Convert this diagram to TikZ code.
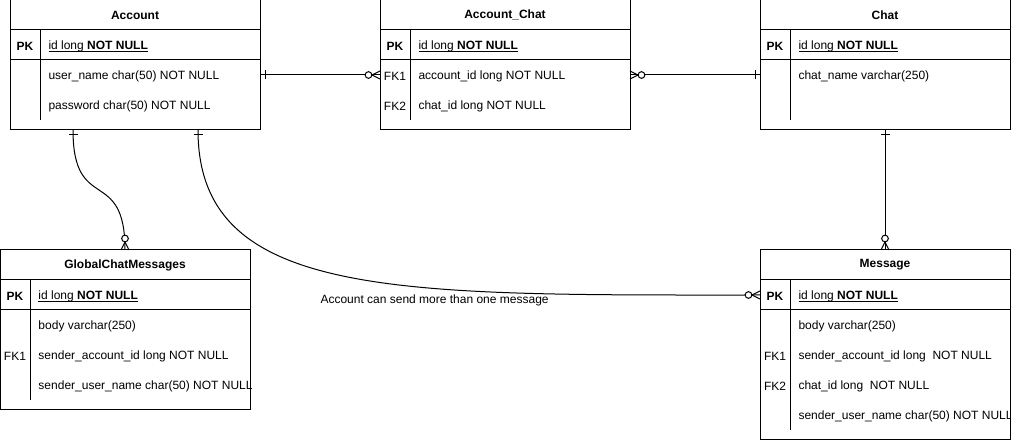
\documentclass[tikz,border=0pt]{standalone}
\usepackage{fontspec}
\setmainfont{Liberation Sans}
\usetikzlibrary{calc}
\newcommand\ulx[1]{\setbox0\hbox{#1}\rlap{\rule[-1.3pt]{\wd0}{0.6pt}}\box0}
\newcommand\pkline{\ulx{id long \textbf{NOT NULL}}}
\newcommand\ertab[5]{% name, x, y, height (pt), title
  \node[tbl, minimum height=#4] (#1) at (#2,#3) {};
  \node[font=\fontsize{9}{11}\selectfont\bfseries] (#1-title) at ($(#1.north)+(0,15)$) {#5};
  \draw ($(#1.north west)+(0,30)$) -- ($(#1.north east)+(0,30)$);
  \draw ($(#1.north west)+(0,60)$) -- ($(#1.north east)+(0,60)$);
  \draw ($(#1.north west)+(30,30)$) -- ($(#1.south west)+(30,-10)$);
}
\newcommand\errow[5]{% table, row name, y offset, key, text
  \node[keytxt] (#1-#2k) at ($(#1.north west)+(15,#3+1.5)$) {#4};
  \node[rowtxt] (#1-#2) at ($(#1.north west)+(38,#3+1.5)$) {#5};
}
\begin{document}
\begin{tikzpicture}[x=0.75pt,y=-0.75pt,line width=0.75pt,
  font=\fontsize{9}{11}\selectfont,
  tbl/.style={draw, minimum width=187.5pt, anchor=north west, inner sep=0pt, outer sep=0pt},
  keytxt/.style={inner sep=0pt},
  rowtxt/.style={anchor=west, inner sep=0pt},
  one/.pic={\draw (5,-4.5) -- (5,4.5);},
  zmany/.pic={\draw (0,-4) -- (8,0) -- (0,4);
              \draw[fill=white] (11.5,0) circle[radius=2.5pt];}]
\useasboundingbox (0,0) rectangle (1011,441);

% tables
\ertab{acc}{10}{0}{97.5pt}{Account}
\errow{acc}{pk}{45}{\bfseries PK}{\pkline}
\errow{acc}{r1}{75}{}{user\_name char(50) NOT NULL}
\errow{acc}{r2}{105}{}{password char(50) NOT NULL}

\ertab{ac}{380}{0}{97.5pt}{Account\_Chat}
\errow{ac}{pk}{45}{\bfseries PK}{\pkline}
\errow{ac}{r1}{75}{FK1}{account\_id long NOT NULL}
\errow{ac}{r2}{105}{FK2}{chat\_id long NOT NULL}

\ertab{chat}{760}{0}{97.5pt}{Chat}
\errow{chat}{pk}{45}{\bfseries PK}{\pkline}
\errow{chat}{r1}{75}{}{chat\_name varchar(250)}

\ertab{gcm}{0}{250}{120pt}{GlobalChatMessages}
\errow{gcm}{pk}{45}{\bfseries PK}{\pkline}
\errow{gcm}{r1}{75}{}{body varchar(250)}
\errow{gcm}{r2}{105}{FK1}{sender\_account\_id long NOT NULL}
\errow{gcm}{r3}{135}{}{sender\_user\_name char(50) NOT NULL}

\ertab{msg}{760}{250}{142.5pt}{Message}
\errow{msg}{pk}{45}{\bfseries PK}{\pkline}
\errow{msg}{r1}{75}{}{body varchar(250)}
\errow{msg}{r2}{105}{FK1}{sender\_account\_id long\ \ NOT NULL}
\errow{msg}{r3}{135}{FK2}{chat\_id long\ \ NOT NULL}
\errow{msg}{r4}{165}{}{sender\_user\_name char(50) NOT NULL}

% connection points
\coordinate (accE) at ($(acc.north east)+(0,75)$);
\coordinate (acW) at ($(ac.north west)+(0,75)$);
\coordinate (acE) at ($(ac.north east)+(0,75)$);
\coordinate (chatW) at ($(chat.north west)+(0,75)$);
\coordinate (accS1) at ($(acc.south west)+(63,0)$);
\coordinate (accS2) at ($(acc.south west)+(188,0)$);
\coordinate (msgW) at ($(msg.north west)+(0,45)$);

% connectors
\draw (accE) -- (acW);
\draw (acE) -- (chatW);
\draw (accS1) .. controls ($(accS1)+(0,85)$) and ($(gcm.north)+(0,-85)$) .. (gcm.north);
\draw (accS2) .. controls ($(accS2)+(0,170)$) and ($(msgW)+(-360,0)$) .. (msgW);
\draw (chat.south) -- (msg.north);

% markers
\pic at (accE) {one};
\pic[rotate=180] at (acW) {zmany};
\pic at (acE) {zmany};
\pic[rotate=180] at (chatW) {one};
\pic[rotate=-90] at (accS1) {one};
\pic[rotate=90] at (gcm.north) {zmany};
\pic[rotate=-90] at (accS2) {one};
\pic[rotate=180] at (msgW) {zmany};
\pic[rotate=-90] at (chat.south) {one};
\pic[rotate=90] at (msg.north) {zmany};

\node[anchor=west, inner sep=0pt] (lbl) at (320,300) {Account can send more than one message};
\end{tikzpicture}
\end{document}
